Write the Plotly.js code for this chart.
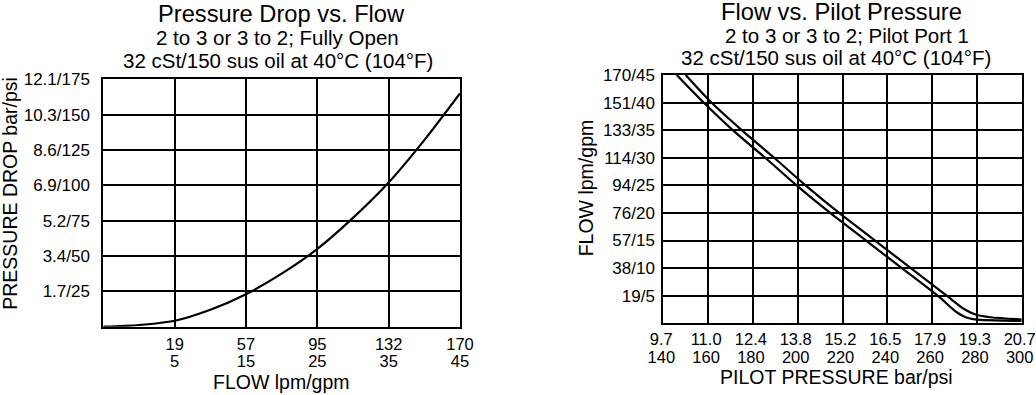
<!DOCTYPE html>
<html>
<head>
<meta charset="utf-8">
<script src="https://cdn.plot.ly/plotly-3.0.1.min.js"></script>
<style>
  html, body { margin: 0; padding: 0; background: #fff; }
  #chart { width: 1036px; height: 395px; }
</style>
</head>
<body>
<div id="chart"></div>
<script>
// ---------- Left chart: Pressure Drop vs. Flow ----------
// flow position in grid steps (0 = origin, 1..5 = labelled grid lines)
const pdFlowPos = [0, 0.5, 1, 1.5, 2, 2.5, 3, 3.5, 4, 4.5, 5];
const pdPsi     = [0, 1.2, 4.2, 12, 23, 37.5, 55, 77, 102, 132, 165];
const pdTickPos = [1, 2, 3, 4, 5];
const pdTickLpm = ["19", "57", "95", "132", "170"];
const pdTickGpm = ["5", "15", "25", "35", "45"];
const pdYTickVals = [25, 50, 75, 100, 125, 150, 175];
const pdYTickText = ["1.7/25", "3.4/50", "5.2/75", "6.9/100", "8.6/125", "10.3/150", "12.1/175"];

// ---------- Right chart: Flow vs. Pilot Pressure ----------
const fpUpperPsi = [150, 161.5, 175, 189.5, 203.5, 218.5, 234.5, 250.5, 266.5, 275, 280, 286, 300];
const fpUpperGpm = [45, 40, 35, 30, 25, 20, 15, 10, 5, 2.4, 1.5, 1.1, 0.7];
const fpLowerPsi = [146, 158, 171, 185.5, 199.5, 214.5, 230.5, 246.5, 262.5, 271, 275, 279, 300];
const fpLowerGpm = [45, 40, 35, 30, 25, 20, 15, 10, 5, 2, 1.1, 0.7, 0.45];
const fpXTickVals = [140, 160, 180, 200, 220, 240, 260, 280, 300];
const fpXTickBar  = ["9.7", "11.0", "12.4", "13.8", "15.2", "16.5", "17.9", "19.3", "20.7"];
const fpXTickPsi  = ["140", "160", "180", "200", "220", "240", "260", "280", "300"];
const fpYTickVals = [5, 10, 15, 20, 25, 30, 35, 40, 45];
const fpYTickText = ["19/5", "38/10", "57/15", "76/20", "94/25", "114/30", "133/35", "151/40", "170/45"];

const FONT = "Liberation Sans, Arial, Helvetica, sans-serif";
const W = 1036, H = 395;
const px = v => v / W;
const py = v => 1 - v / H;

const lineStyle = { color: "#000", width: 2.2, shape: "spline", smoothing: 0.8 };

const traces = [
  { x: pdFlowPos, y: pdPsi, xaxis: "x", yaxis: "y", mode: "lines",
    line: lineStyle, hoverinfo: "skip", showlegend: false },
  { x: [], y: [], xaxis: "x3", yaxis: "y", mode: "lines", showlegend: false, hoverinfo: "skip" },
  { x: fpUpperPsi, y: fpUpperGpm, xaxis: "x2", yaxis: "y2", mode: "lines",
    line: lineStyle, hoverinfo: "skip", showlegend: false },
  { x: fpLowerPsi, y: fpLowerGpm, xaxis: "x2", yaxis: "y2", mode: "lines",
    line: lineStyle, hoverinfo: "skip", showlegend: false },
  { x: [], y: [], xaxis: "x4", yaxis: "y2", mode: "lines", showlegend: false, hoverinfo: "skip" }
];

const yTickFont = { family: FONT, size: 17, color: "#000" };
const xTickFont = { family: FONT, size: 16.5, color: "#000" };
const baseAxis = {
  showgrid: true, gridcolor: "#000", gridwidth: 2,
  showline: true, linecolor: "#000", linewidth: 2, mirror: true,
  zeroline: false, ticks: "", fixedrange: true,
  tickmode: "array", ticklabeloverflow: "allow"
};
const overlayAxis = {
  showgrid: false, showline: false, zeroline: false, ticks: "",
  tickfont: xTickFont, fixedrange: true, tickmode: "array", side: "bottom",
  ticklabeloverflow: "allow"
};

const ann = (text, x, y, size, extra) => Object.assign({
  text, x: px(x), y: py(y), xref: "paper", yref: "paper",
  xanchor: "center", yanchor: "middle", showarrow: false,
  font: { family: FONT, size, color: "#000" }
}, extra || {});

const layout = {
  width: W, height: H,
  margin: { l: 0, r: 0, t: 0, b: 0 },
  paper_bgcolor: "#fff", plot_bgcolor: "#fff",
  showlegend: false,
  xaxis: Object.assign({}, baseAxis, {
    domain: [px(103.3), px(460)], anchor: "y", range: [0, 5], tickfont: xTickFont,
    tickvals: pdTickPos, ticktext: pdTickLpm, ticklabelstandoff: 1
  }),
  xaxis3: Object.assign({}, overlayAxis, {
    overlaying: "x", anchor: "y", range: [0, 5],
    tickvals: pdTickPos, ticktext: pdTickGpm, ticklabelstandoff: 23
  }),
  yaxis: Object.assign({}, baseAxis, {
    domain: [py(326.7), py(79.3)], anchor: "x", range: [0, 175], tickfont: yTickFont,
    tickvals: pdYTickVals, ticktext: pdYTickText, ticklabelstandoff: 8
  }),
  xaxis2: Object.assign({}, baseAxis, {
    domain: [px(663.3), px(1021.7)], anchor: "y2", range: [140, 300], tickfont: xTickFont,
    tickvals: fpXTickVals, ticktext: fpXTickBar, ticklabelstandoff: 0, ticklabelshift: -2
  }),
  xaxis4: Object.assign({}, overlayAxis, {
    overlaying: "x2", anchor: "y2", range: [140, 300],
    tickvals: fpXTickVals, ticktext: fpXTickPsi, ticklabelstandoff: 22, ticklabelshift: -2
  }),
  yaxis2: Object.assign({}, baseAxis, {
    domain: [py(323.3), py(75)], anchor: "x2", range: [0, 45], tickfont: yTickFont,
    tickvals: fpYTickVals, ticktext: fpYTickText, ticklabelstandoff: 3
  }),
  annotations: [
    ann("Pressure Drop vs. Flow", 281.7, 14.5, 23.7),
    ann("2 to 3 or 3 to 2; Fully Open", 277, 38, 20.5),
    ann("32 cSt/150 sus oil at 40°C (104°F)", 277.5, 60.5, 20.5),
    ann("Flow vs. Pilot Pressure", 841, 12, 23.7),
    ann("2 to 3 or 3 to 2; Pilot Port 1", 846.5, 35, 20.5),
    ann("32 cSt/150 sus oil at 40°C (104°F)", 836, 57, 20.5),
    ann("FLOW lpm/gpm", 281, 381.5, 19.5),
    ann("PILOT PRESSURE bar/psi", 836.7, 377, 19.5),
    ann("PRESSURE DROP bar/psi", 10.5, 193.3, 19.5, { textangle: -90 }),
    ann("FLOW lpm/gpm", 586, 188.3, 19.5, { textangle: -90 })
  ]
};

Plotly.newPlot("chart", traces, layout, { staticPlot: true, displayModeBar: false });
</script>
</body>
</html>
